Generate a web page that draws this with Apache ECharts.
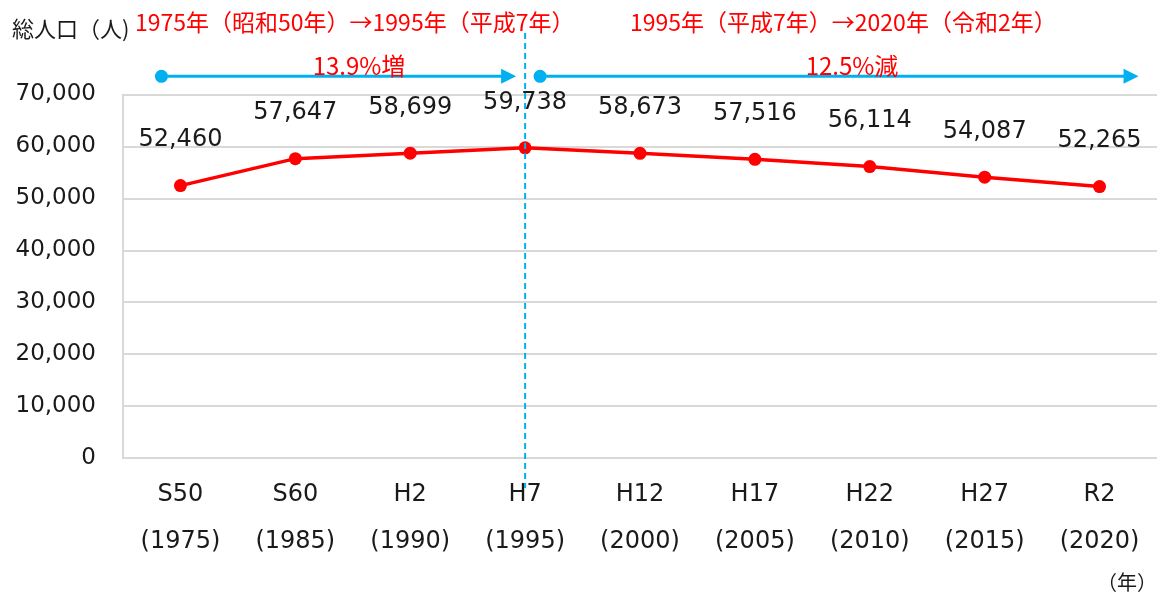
<!DOCTYPE html>
<html>
<head>
<meta charset="utf-8">
<script src="https://cdn.jsdelivr.net/npm/echarts@6/dist/echarts.min.js"></script>
<style>html,body{margin:0;padding:0;background:#fff;}#c{width:1157px;height:595px;}</style>
</head>
<body>
<div id="c"></div>
<script>
const categories = ['S50', 'S60', 'H2', 'H7', 'H12', 'H17', 'H22', 'H27', 'R2'];
const years = ['1975', '1985', '1990', '1995', '2000', '2005', '2010', '2015', '2020'];
const population = [52460, 57647, 58699, 59738, 58673, 57516, 56114, 54087, 52265];
const yTicks = [0, 10000, 20000, 30000, 40000, 50000, 60000, 70000];
const periodLabels = ['1975年（昭和50年）→1995年（平成7年）', '1995年（平成7年）→2020年（令和2年）'];
const changeLabels = ['13.9%増', '12.5%減'];
const arrowLevel = 73500;
const splitIndex = 3;

const FONT = '"DejaVu Sans", Verdana, sans-serif';
const JFONT = '"Noto Sans CJK JP", sans-serif';
const fmt = v => String(v).replace(/\B(?=(\d{3})+(?!\d))/g, ',');

const chart = echarts.init(document.getElementById('c'), null, {renderer: 'canvas'});
chart.setOption({
  animation: false,
  backgroundColor: '#fff',
  grid: {left: 123, top: 94.5, width: 1039, bottom: 137, containLabel: false},
  xAxis: {
    type: 'category',
    data: categories.map((c, i) => c + '\n(' + years[i] + ')'),
    boundaryGap: true,
    axisLine: {lineStyle: {color: '#d9d9d9', width: 2}},
    axisTick: {show: false},
    axisLabel: {color: '#1a1a1a', fontFamily: FONT, fontSize: 24, lineHeight: 47, margin: 13, interval: 0}
  },
  yAxis: {
    type: 'value',
    min: yTicks[0], max: yTicks[yTicks.length - 1], interval: yTicks[1] - yTicks[0],
    axisLine: {show: true, lineStyle: {color: '#d9d9d9', width: 2}},
    axisTick: {show: false},
    splitLine: {lineStyle: {color: '#d9d9d9', width: 2}},
    axisLabel: {color: '#1a1a1a', fontFamily: FONT, fontSize: 23, margin: 27, formatter: fmt}
  },
  series: [{
    type: 'line',
    data: population,
    symbol: 'circle',
    symbolSize: 13,
    lineStyle: {color: '#ff0000', width: 3.5},
    itemStyle: {color: '#ff0000'},
    label: {show: true, position: 'top', distance: 27, color: '#1a1a1a', fontFamily: FONT, fontSize: 24, formatter: p => fmt(p.value)},
    z: 3
  }]
});

const px = (i, v) => chart.convertToPixel({seriesIndex: 0}, [i, v]);
const pSplit = px(splitIndex, arrowLevel);
const p0 = px(0, arrowLevel);
const pEnd = px(categories.length - 1, arrowLevel);
const yA = pSplit[1];
const xSplit = pSplit[0];
const blue = '#00b0f0';

function arrow(x1, x2, y) {
  return [
    {type: 'line', shape: {x1: x1, y1: y, x2: x2 - 12, y2: y}, style: {stroke: blue, lineWidth: 3}, z: 10},
    {type: 'circle', shape: {cx: x1, cy: y, r: 6.5}, style: {fill: blue}, z: 10},
    {type: 'polygon', shape: {points: [[x2 - 15, y - 7.5], [x2, y], [x2 - 15, y + 7.5]]}, style: {fill: blue}, z: 10}
  ];
}

const lx1 = p0[0] - 19, lx2 = xSplit - 9;
const rx1 = xSplit + 15, rx2 = pEnd[0] + 39;

chart.setOption({
  graphic: [
    {type: 'line', shape: {x1: xSplit, y1: 33, x2: xSplit, y2: 488}, style: {stroke: blue, lineWidth: 2, lineDash: [6, 4]}, z: 9},
    ...arrow(lx1, lx2, yA),
    ...arrow(rx1, rx2, yA),
    {type: 'text', x: 12, y: 29, style: {text: '総人口（人)', fill: '#1a1a1a', font: '22px ' + JFONT, textVerticalAlign: 'middle'}, z: 11},
    {type: 'text', x: 135, y: 22, style: {text: periodLabels[0], fill: '#ff0000', font: '23px ' + JFONT, textVerticalAlign: 'middle'}, z: 11},
    {type: 'text', x: 630, y: 22, style: {text: periodLabels[1], fill: '#ff0000', font: '23px ' + JFONT, textVerticalAlign: 'middle'}, z: 11},
    {type: 'text', x: 359, y: 66, style: {text: changeLabels[0], fill: '#ff0000', font: '24px ' + JFONT, textAlign: 'center', textVerticalAlign: 'middle'}, z: 11},
    {type: 'text', x: 852, y: 66, style: {text: changeLabels[1], fill: '#ff0000', font: '24px ' + JFONT, textAlign: 'center', textVerticalAlign: 'middle'}, z: 11},
    {type: 'text', x: 1127, y: 582, style: {text: '（年）', fill: '#1a1a1a', font: '20px ' + JFONT, textAlign: 'center', textVerticalAlign: 'middle'}, z: 11}
  ]
});
</script>
</body>
</html>
